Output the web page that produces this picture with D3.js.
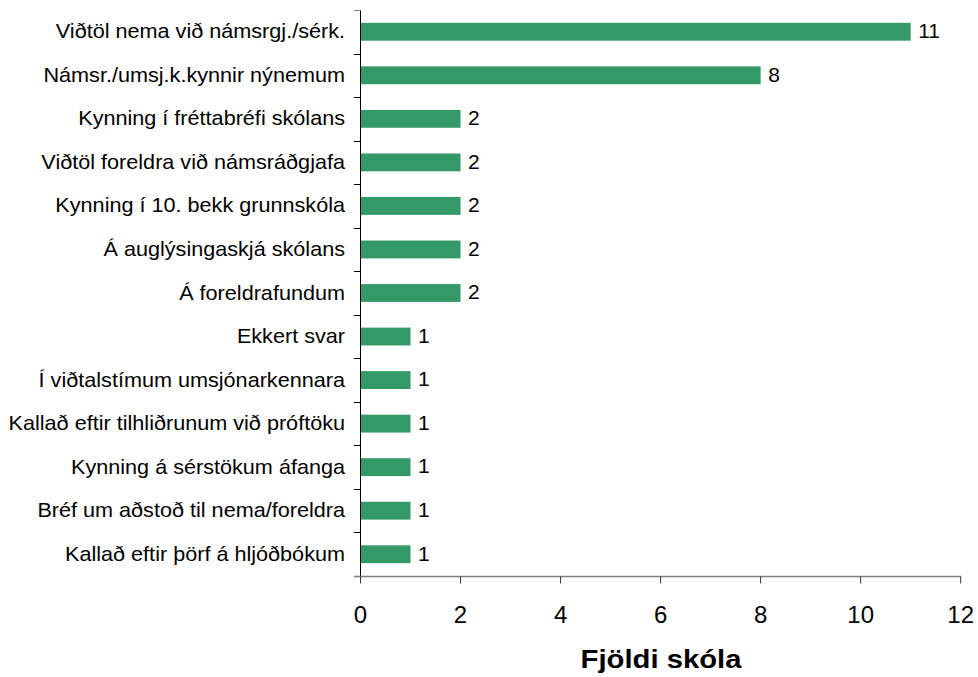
<!DOCTYPE html>
<html><head><meta charset="utf-8">
<script src="https://cdn.jsdelivr.net/npm/d3@7"></script>
<style>body{margin:0;background:#fff}svg{display:block}text{font-family:"Liberation Sans",Arial,sans-serif}</style>
</head><body>
<svg id="c" width="978" height="677"></svg>
<script>
const categories = ["Viðtöl nema við námsrgj./sérk.","Námsr./umsj.k.kynnir nýnemum","Kynning í fréttabréfi skólans","Viðtöl foreldra við námsráðgjafa","Kynning í 10. bekk grunnskóla","Á auglýsingaskjá skólans","Á foreldrafundum","Ekkert svar","Í viðtalstímum umsjónarkennara","Kallað eftir tilhliðrunum við próftöku","Kynning á sérstökum áfanga","Bréf um aðstoð til nema/foreldra","Kallað eftir þörf á hljóðbókum"];
const values = [11,8,2,2,2,2,2,1,1,1,1,1,1];
const xTicks = [0,2,4,6,8,10,12];
const axisTitle = "Fjöldi skóla";

const svg = d3.select("#c");
const x = d3.scaleLinear().domain([0,12]).range([360.5,960.7]);
const y = d3.scaleBand().domain(categories).range([10,576]).paddingInner(0.59).paddingOuter(0.295);
const step = y.step();
const mid = d => y(d)+y.bandwidth()/2;

// bars
svg.selectAll("rect.bar").data(categories).join("rect")
  .attr("x", x(0)).attr("y", d=>y(d))
  .attr("width", (d,i)=>x(values[i])-x(0)).attr("height", y.bandwidth())
  .attr("fill","#339966");

// value labels
svg.selectAll("text.val").data(categories).join("text")
  .attr("x",(d,i)=>x(values[i])+7.5).attr("y",mid)
  .attr("dy","0.3em").attr("font-size",21).attr("fill","#000")
  .text((d,i)=>values[i]);

// category labels
svg.selectAll("text.cat").data(categories).join("text")
  .attr("transform",d=>`translate(345,${mid(d)}) scale(1.065,1)`)
  .attr("dy","0.32em").attr("text-anchor","end").attr("font-size",20.3).attr("fill","#000")
  .text(d=>d);

// y axis line and ticks
svg.append("line").attr("x1",360.5).attr("x2",360.5).attr("y1",10).attr("y2",576).attr("stroke","#000").attr("stroke-width",1);
for(let i=0;i<=categories.length;i++){
  const yy = 10 + i*step;
  svg.append("line").attr("x1",354).attr("x2",360.5).attr("y1",Math.round(yy)+0.5).attr("y2",Math.round(yy)+0.5).attr("stroke",i===0?"#808080":"#000");
}

// x axis
const xa = svg.append("g").attr("transform","translate(0,576.5)");
xa.append("line").attr("x1",354).attr("x2",961).attr("stroke","#808080").attr("stroke-width",1.5);
xa.selectAll("line.t").data(xTicks).join("line").attr("class","t")
  .attr("x1",d=>x(d)).attr("x2",d=>x(d)).attr("y1",0).attr("y2",7).attr("stroke","#333");
xa.selectAll("text").data(xTicks).join("text")
  .attr("x",d=>x(d)).attr("y",46).attr("text-anchor","middle")
  .attr("font-size",24).attr("fill","#000").text(d=>d);

svg.append("text").attr("transform","translate(661,667.5) scale(1.17,1)").attr("text-anchor","middle")
  .attr("font-size",25).attr("font-weight","bold").attr("fill","#000").text(axisTitle);
</script>
</body></html>
